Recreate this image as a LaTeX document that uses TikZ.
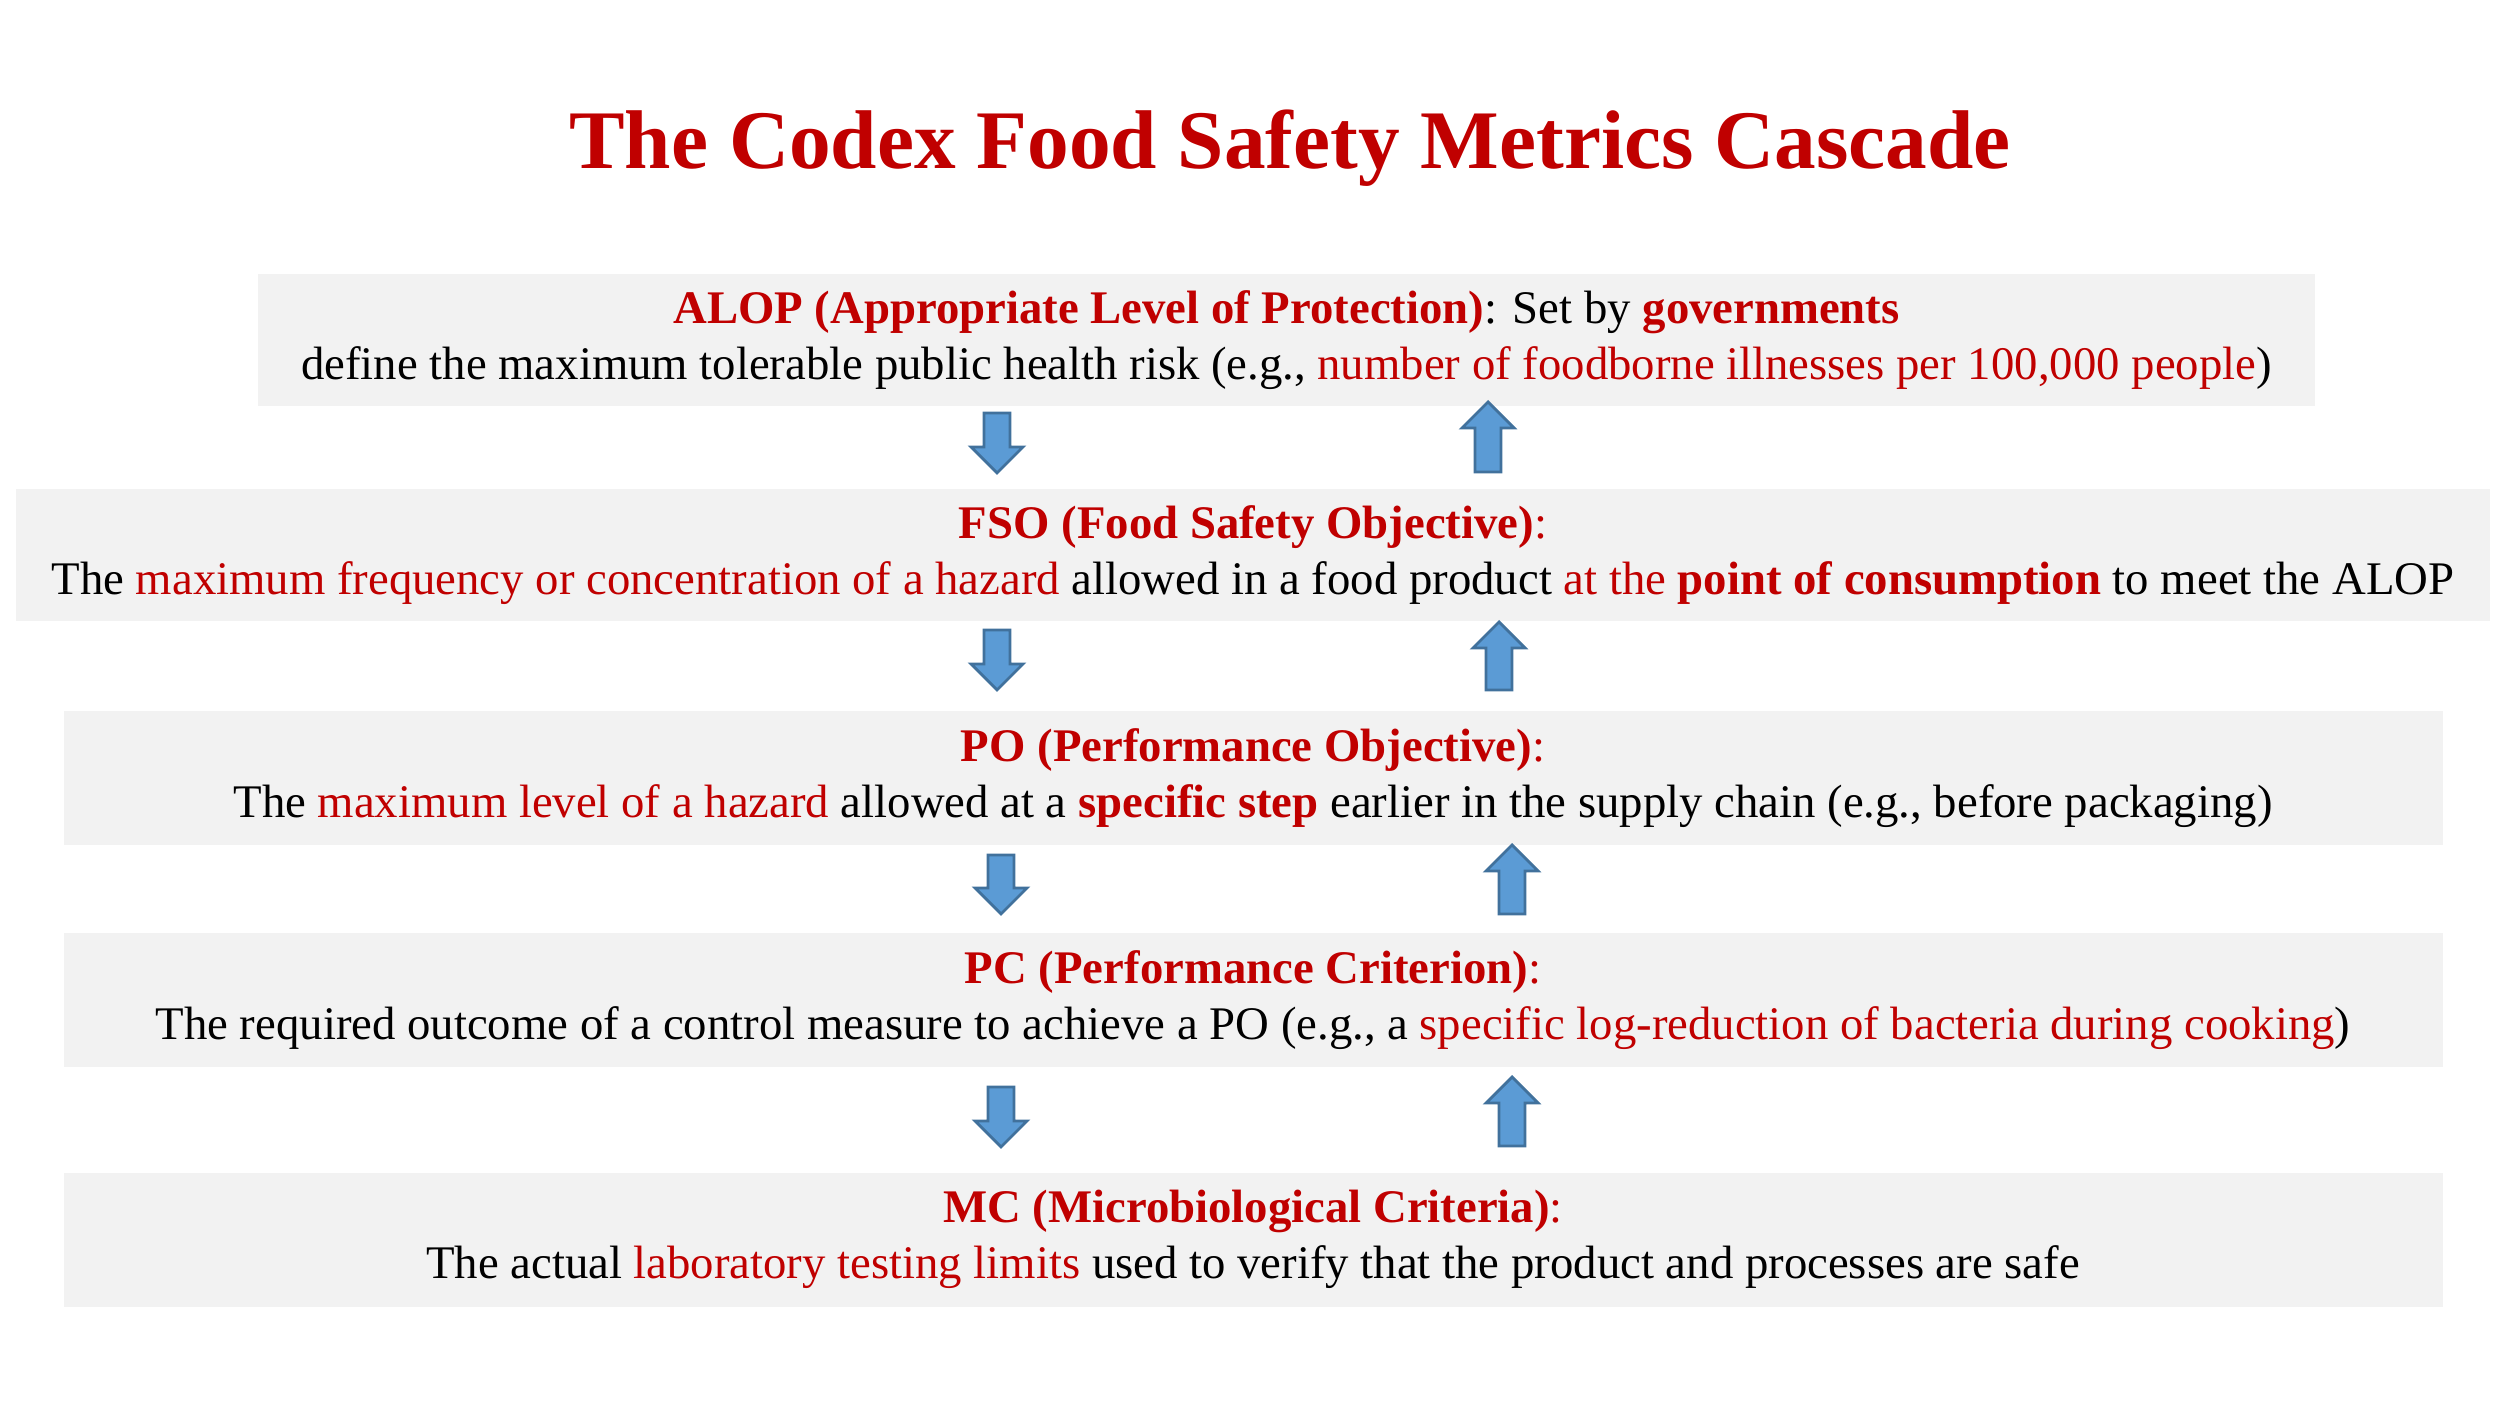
\documentclass[tikz,border=0pt]{standalone}
\usepackage{fontspec}
\setmainfont{Liberation Serif}
\usepackage{xcolor}
\usetikzlibrary{positioning, calc}
\definecolor{rossoCodex}{HTML}{C00000}
\definecolor{grigioBox}{HTML}{F2F2F2}
\definecolor{bluFreccia}{HTML}{5B9BD5}
\definecolor{bordoFreccia}{HTML}{41719C}
\newcommand{\rosso}[1]{\textcolor{rossoCodex}{#1}}
\newcommand{\rossoB}[1]{\textcolor{rossoCodex}{\bfseries #1}}
\newcommand{\frecciaGiu}[3]{
\filldraw[freccia] (#1-\asta,#2) -- (#1+\asta,#2) -- (#1+\asta,#3+\punta) -- (#1+\testa,#3+\punta) -- (#1,#3) -- (#1-\testa,#3+\punta) -- (#1-\asta,#3+\punta) -- cycle;
}
\newcommand{\frecciaSu}[3]{
\filldraw[freccia] (#1-\asta,#2) -- (#1+\asta,#2) -- (#1+\asta,#3-\punta) -- (#1+\testa,#3-\punta) -- (#1,#3) -- (#1-\testa,#3-\punta) -- (#1-\asta,#3-\punta) -- cycle;
}
\tikzset{
  livello/.style = {fill=grigioBox, align=center, inner sep=0pt, minimum height=1.32cm,
    font=\fontsize{13.3}{16}\selectfont},
  freccia/.style = {fill=bluFreccia, draw=bordoFreccia, line width=0.8pt, line join=miter},
  titolo/.style = {text=rossoCodex, font=\fontsize{23.7}{28}\selectfont\bfseries}
}

\begin{document}
\begin{tikzpicture}
    % Parametri
    \pgfmathsetmacro{\asta}{0.13}
    \pgfmathsetmacro{\testa}{0.26}
    \pgfmathsetmacro{\punta}{0.26}
    \useasboundingbox (0,0) rectangle (25,14.06);
    % Titolo
    \node[titolo] (titolo) at (12.9,12.58) {The Codex Food Safety Metrics Cascade};
    % Livelli
    \node[livello, minimum width=20.57cm] (alop) at (12.865,10.66)
      {\rossoB{ALOP (Appropriate Level of Protection)}: Set by \rossoB{governments}\\
       define the maximum tolerable public health risk (e.g., \rosso{number of foodborne illnesses per 100,000 people})};
    \node[livello, minimum width=24.74cm, below=0.82cm of alop, xshift=-0.335cm] (fso)
      {\rossoB{FSO (Food Safety Objective)}\rosso{:}\\
       The \rosso{maximum frequency or concentration of a hazard} allowed in a food product \rosso{at the \textbf{point of consumption}} to meet the ALOP};
    \node[livello, minimum width=23.79cm, minimum height=1.34cm, below=0.88cm of fso] (po)
      {\rossoB{PO (Performance Objective)}\rosso{:}\\
       The \rosso{maximum level of a hazard} allowed at a \rossoB{specific step} earlier in the supply chain (e.g., before packaging)};
    \node[livello, minimum width=23.79cm, minimum height=1.34cm, below=0.87cm of po] (pc)
      {\rossoB{PC (Performance Criterion)}\rosso{:}\\
       The required outcome of a control measure to achieve a PO (e.g., a \rosso{specific log-reduction of bacteria during cooking})};
    \node[livello, minimum width=23.79cm, minimum height=1.34cm, below=1.04cm of pc] (mc)
      {\rossoB{MC (Microbiological Criteria)}\rosso{:}\\
       The actual \rosso{laboratory testing limits} used to verify that the product and processes are safe};
    % Frecce
    \frecciaGiu{9.97}{9.93}{9.33}
    \frecciaSu{14.88}{9.34}{10.04}
    \frecciaGiu{9.97}{7.76}{7.16}
    \frecciaSu{14.99}{7.16}{7.84}
    \frecciaGiu{10.01}{5.51}{4.92}
    \frecciaSu{15.12}{4.92}{5.61}
    \frecciaGiu{10.01}{3.19}{2.59}
    \frecciaSu{15.12}{2.60}{3.29}
\end{tikzpicture}
\end{document}
